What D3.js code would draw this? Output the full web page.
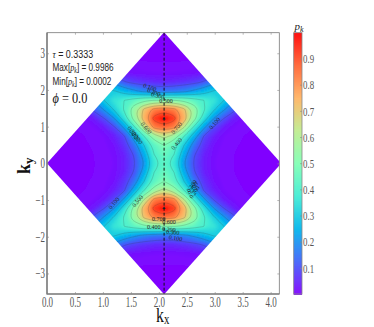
<!DOCTYPE html>
<html>
<head>
<meta charset="utf-8">
<script src="https://cdn.jsdelivr.net/npm/d3@7"></script>
<style>
html, body { margin: 0; padding: 0; background: #fff; }
svg { display: block; }
text { font-family: "Liberation Serif", serif; fill: #444; }
</style>
</head>
<body>
<script>
var w = 374, h = 327;

// p_k, one quarter of the zone: first row is ky = 0, going up,
// each row starts on the dashed line and goes outwards. The other quarters are mirrored.
var densityRows = [
    [.43, .36, .20, .095, .04, .015, .008, .005, .004, .003, .002, .002, .002],
    [.46, .40, .24, .105, .045, .018, .008, .005, .004, .003, .002, .002, .002],
    [.50, .43, .30, .155, .065, .025, .01, .006, .004, .003, .002, .002, .002],
    [.63, .55, .40, .245, .09, .04, .015, .008, .005, .003, .002, .002, .002],
    [.87, .83, .60, .38, .215, .09, .035, .015, .008, .005, .003, .002, .002],
    [.9986, .93, .76, .54, .35, .20, .10, .04, .015, .008, .005, .003, .002],
    [.86, .83, .72, .56, .41, .31, .21, .12, .05, .02, .01, .005, .003],
    [.50, .50, .48, .44, .40, .36, .30, .21, .12, .05, .02, .01, .005],
    [.15, .16, .18, .22, .26, .31, .33, .28, .18, .09, .04, .015, .008],
    [.05, .055, .065, .08, .11, .18, .20, .15, .09, .05, .02, .01, .005],
    [.015, .016, .018, .022, .03, .05, .06, .05, .03, .015, .01, .005, .003],
    [.006, .006, .006, .007, .008, .01, .012, .01, .008, .005, .004, .003, .002],
    [.003, .003, .003, .003, .003, .003, .003, .003, .003, .003, .002, .002, .002],
    [.002, .002, .002, .002, .002, .002, .002, .002, .002, .002, .002, .002, .002],
    [.001, .001, .001, .001, .001, .001, .001, .001, .001, .001, .001, .001, .001]
];
var gridStepKx = 0.1786, gridStepKy = 0.2454;
var centerKx = 2.0944, apexKy = 3.57;

var xTicks = [0, 0.5, 1, 1.5, 2, 2.5, 3, 3.5, 4];
var yTicks = [-3, -2, -1, 0, 1, 2, 3];
var barTicks = [0.1, 0.2, 0.3, 0.4, 0.5, 0.6, 0.7, 0.8, 0.9];
var lineLevels = [0.1, 0.2, 0.3, 0.4, 0.5, 0.6, 0.7, 0.8, 0.9];
var peaks = [[2.0944, 1.22], [2.0944, -1.22]];

// matplotlib "rainbow"
var rainbowStops = ["#8000ff", "#4061fa", "#00b5ec", "#40ecd4", "#80ffb4", "#bfec8e", "#ffb462", "#ff6232", "#ff0000"];

// contour labels: text, kx, ky, angle
var lineLabels = [
    ["0.100", 1.84, 2.07, 20], ["0.200", 1.91, 1.94, 20], ["0.300", 1.98, 1.84, 15], ["0.500", 2.13, 1.69, 0],
    ["0.600", 1.77, 0.96, 50], ["0.700", 2.32, 0.96, -50], ["0.400", 2.32, 0.53, -50], ["0.100", 3.00, 1.09, -50],
    ["0.300", 1.54, 0.85, 50], ["0.200", 1.57, 0.77, 50], ["0.200", 1.61, 0.68, 50],
    ["0.100", 1.20, -1.09, -50], ["0.500", 1.62, -1.03, -50],
    ["0.300", 2.59, -0.62, -55], ["0.200", 2.61, -0.68, -55], ["0.200", 2.64, -0.79, -55],
    ["0.700", 2.00, -1.52, 0], ["0.600", 2.18, -1.60, 0], ["0.400", 1.91, -1.74, 0],
    ["0.200", 2.18, -1.80, 5], ["0.300", 2.25, -1.88, 5], ["0.100", 2.30, -2.04, 10]
];

var svg = d3.select("body").append("svg")
    .attr("width", w)
    .attr("height", h);

var plotLeft = 47, plotRight = 279.3, plotTop = 32.7, plotBottom = 294;

var x = d3.scaleLinear().domain([0, 4.155]).range([plotLeft, plotRight]);
var y = d3.scaleLinear().domain([-3.56, 3.56]).range([plotBottom, plotTop]);
var color = d3.scaleLinear()
    .domain(rainbowStops.map(function(d, i){ return i / (rainbowStops.length - 1); }))
    .range(rainbowStops);

// mirror the quarter into the whole grid
var wholeRows = densityRows.slice().reverse().concat(densityRows.slice(1));
var grid = [];
wholeRows.forEach(function(row){
    grid = grid.concat(row.slice().reverse(), row.slice(1));
});
var nx = densityRows[0].length * 2 - 1, ny = wholeRows.length;

// rings of d3.contours are rounded so the coarse grid does not show as corners
var ringLine = d3.line()
    .x(function(p){ return x(centerKx + (p[0] - 0.5 - (nx - 1) / 2) * gridStepKx); })
    .y(function(p){ return y(((ny - 1) / 2 - (p[1] - 0.5)) * gridStepKy); })
    .curve(d3.curveBasisClosed);

function contourPath(d){
    var out = "";
    d.coordinates.forEach(function(polygon){
        polygon.forEach(function(ring){
            out += ringLine(ring.slice(0, -1));
        });
    });
    return out;
}

var defs = svg.append("defs");
var diamond = [[centerKx, apexKy], [centerKx * 2, 0], [centerKx, -apexKy], [0, 0]];
defs.append("clipPath").attr("id", "zone")
    .append("path")
    .attr("d", d3.line().x(function(d){ return x(d[0]); }).y(function(d){ return y(d[1]); })(diamond) + "Z");
defs.append("clipPath").attr("id", "frame")
    .append("rect")
    .attr("x", plotLeft).attr("y", plotTop).attr("width", plotRight - plotLeft).attr("height", plotBottom - plotTop);
defs.append("filter").attr("id", "soft")
    .append("feGaussianBlur").attr("stdDeviation", 0.9);

var plot = svg.append("g").attr("clip-path", "url(#frame)");
var zone = plot.append("g").attr("clip-path", "url(#zone)");
var fills = zone.append("g").attr("filter", "url(#soft)");

fills.append("rect")
    .attr("x", plotLeft - 5).attr("y", plotTop - 5)
    .attr("width", plotRight - plotLeft + 10).attr("height", plotBottom - plotTop + 10)
    .attr("fill", color(0));

var fillLevels = d3.range(0.005, 1, 0.01);
fills.selectAll(".band")
    .data(d3.contours().size([nx, ny]).thresholds(fillLevels)(grid))
    .enter()
    .append("path")
    .attr("class", "band")
    .attr("d", contourPath)
    .attr("fill-rule", "evenodd")
    .attr("fill", function(d){ return color(d.value + 0.005); });

zone.append("g").selectAll(".line")
    .data(d3.contours().size([nx, ny]).thresholds(lineLevels)(grid))
    .enter()
    .append("path")
    .attr("class", "line")
    .attr("d", contourPath)
    .attr("fill", "none")
    .attr("stroke", "#333")
    .attr("stroke-opacity", 0.38)
    .attr("stroke-width", 0.5);

plot.selectAll(".peak")
    .data(peaks)
    .enter()
    .append("path")
    .attr("class", "peak")
    .attr("d", d3.symbol().type(d3.symbolTriangle).size(5))
    .attr("transform", function(d){ return "translate(" + x(d[0]) + "," + y(d[1]) + ")"; })
    .attr("fill", "#333");

plot.append("line")
    .attr("x1", x(centerKx)).attr("x2", x(centerKx))
    .attr("y1", plotTop).attr("y2", plotBottom)
    .attr("stroke", "#111")
    .attr("stroke-width", 1)
    .attr("stroke-dasharray", "3,2");

svg.selectAll(".lineLabel")
    .data(lineLabels)
    .enter()
    .append("text")
    .attr("class", "lineLabel")
    .attr("text-anchor", "middle")
    .attr("dy", "0.32em")
    .attr("transform", function(d){
        return "translate(" + x(d[1]) + "," + y(d[2]) + ") rotate(" + d[3] + ")";
    })
    .style("font-size", "6px")
    .style("fill", "#222")
    .text(function(d){ return d[0]; });

// frame
svg.append("rect")
    .attr("x", plotLeft).attr("y", plotTop)
    .attr("width", plotRight - plotLeft).attr("height", plotBottom - plotTop)
    .attr("fill", "none")
    .attr("stroke", "#777")
    .attr("stroke-width", 0.8);
svg.append("path")
    .attr("d", "M" + plotLeft + "," + plotTop + "V" + plotBottom + "H" + plotRight)
    .attr("fill", "none")
    .attr("stroke", "#666")
    .attr("stroke-width", 1.1);

// axes, tick labels are narrow like the Computer Modern of the original
function narrow(sel, factor){
    sel.each(function(){
        var len = this.getComputedTextLength();
        d3.select(this).attr("textLength", len * factor).attr("lengthAdjust", "spacingAndGlyphs");
    });
}

function styleAxis(g, size){
    g.select(".domain").remove();
    g.selectAll("line").attr("stroke", "#888").attr("stroke-width", 0.6);
    g.selectAll("text").style("font-size", (size || 14) + "px").style("fill", "#555");
}

var xAxis = svg.append("g")
    .attr("class", "axis")
    .attr("transform", "translate(0," + plotBottom + ")")
    .call(d3.axisBottom(x).tickValues(xTicks).tickFormat(d3.format(".1f")).tickSizeInner(-2).tickPadding(3))
    .call(styleAxis);
narrow(xAxis.selectAll("text"), 0.64);

var xAxisTop = svg.append("g")
    .attr("transform", "translate(0," + plotTop + ")")
    .call(d3.axisTop(x).tickValues(xTicks).tickFormat("").tickSizeInner(-2))
    .call(styleAxis);

var yAxis = svg.append("g")
    .attr("class", "axis")
    .attr("transform", "translate(" + plotLeft + ",0)")
    .call(d3.axisLeft(y).tickValues(yTicks).tickFormat(d3.format("d")).tickSizeInner(-2).tickPadding(2))
    .call(styleAxis);
narrow(yAxis.selectAll("text"), 0.64);

svg.append("g")
    .attr("transform", "translate(" + plotRight + ",0)")
    .call(d3.axisRight(y).tickValues(yTicks).tickFormat("").tickSizeInner(-2))
    .call(styleAxis);

// axis labels
var xLabel = svg.append("text").attr("transform", "translate(156,321.5) scale(0.72,1)");
xLabel.append("tspan").style("font-size", "22px").style("fill", "#111").text("k");
xLabel.append("tspan").attr("dy", 2).style("font-size", "15px").style("fill", "#111").text("x");

var yLabel = svg.append("text")
    .attr("transform", "translate(30,174) rotate(-90)")
    .style("font-weight", "bold");
yLabel.append("tspan").style("font-size", "18px").style("fill", "#111").text("k");
yLabel.append("tspan").attr("dy", 3).style("font-size", "13px").style("fill", "#111").text("y");

// annotations
var notes = svg.append("g");
function note(yy, squeeze, parts){
    var t = notes.append("text")
        .attr("transform", "translate(52.5," + yy + ") scale(" + squeeze + ",1)")
        .style("font-family", "'Liberation Sans', sans-serif")
        .style("font-size", "10.5px");
    parts.forEach(function(p){
        var s = t.append("tspan").style("fill", "#222").text(p[0]);
        if (p[1]) s.style("font-family", "'Liberation Serif', serif").style("font-style", "italic");
        if (p[2]) s.attr("dy", p[2]);
        if (p[2] > 0) s.style("font-size", "7.5px");
    });
}
note(57.5, 0.85, [["τ", 1], [" = 0.3333"]]);
note(70.5, 0.78, [["Max[", 0], ["p", 1], ["k", 1, 2], ["]", 0, -2], [" = 0.9986"]]);
note(84.5, 0.78, [["Min[", 0], ["p", 1], ["k", 1, 2], ["]", 0, -2], [" = 0.0002"]]);

var phiNote = svg.append("text")
    .attr("transform", "translate(52.5,103) scale(0.82,1)")
    .style("font-size", "15px");
phiNote.append("tspan").style("font-style", "italic").style("fill", "#111").text("ϕ");
phiNote.append("tspan").style("fill", "#111").text(" = 0.0");

// colorbar
var barLeft = 293.7, barRight = 302;
var barY = d3.scaleLinear().domain([0.0002, 0.9986]).range([294, 32.7]);
var barSteps = d3.range(0, 261.3, 1);
svg.selectAll(".barCell")
    .data(barSteps)
    .enter()
    .append("rect")
    .attr("class", "barCell")
    .attr("x", barLeft)
    .attr("width", barRight - barLeft)
    .attr("y", function(d){ return 32.7 + d; })
    .attr("height", 1.2)
    .attr("fill", function(d){ return color(barY.invert(32.7 + d)); });

svg.append("rect")
    .attr("x", barLeft).attr("y", 32.7)
    .attr("width", barRight - barLeft).attr("height", 261.3)
    .attr("fill", "none")
    .attr("stroke", "#888")
    .attr("stroke-width", 0.8);

var barAxis = svg.append("g")
    .attr("transform", "translate(" + barRight + ",0)")
    .call(d3.axisRight(barY).tickValues(barTicks).tickFormat(d3.format(".1f")).tickSizeInner(-2).tickSizeOuter(0).tickPadding(1))
    .call(styleAxis, 13);
narrow(barAxis.selectAll("text"), 0.68);

var barLabel = svg.append("text").attr("x", 294.5).attr("y", 30).style("font-style", "italic");
barLabel.append("tspan").style("font-size", "11px").style("fill", "#222").text("p");
barLabel.append("tspan").attr("dy", 2).style("font-size", "8px").style("fill", "#222").text("k");
</script>
</body>
</html>
